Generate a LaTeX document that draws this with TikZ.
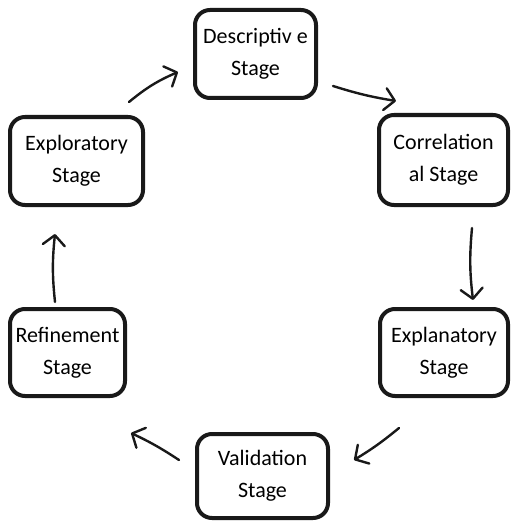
\documentclass[tikz,border=0pt]{standalone}
\usepackage{fontspec}
\setmainfont{Carlito}
\usetikzlibrary{arrows.meta}
\begin{document}
\begin{tikzpicture}[x=1pt,y=-1pt,
  stagebox/.style={draw=black!90,line width=4pt,rounded corners=15pt,align=center,
    font=\fontsize{22}{32}\selectfont,inner sep=0pt},
  arr/.style={draw=black!90,line width=2.4pt,line cap=round,
    -{Straight Barb[length=10pt,width=22pt,line cap=round,line join=round]}}]
\useasboundingbox (0,0) rectangle (512,524);
\node[stagebox,minimum width=121pt,minimum height=88pt] (desc) at (255.5,54) {Descriptiv e\\Stage};
\node[stagebox,minimum width=129pt,minimum height=90pt] (corr) at (443.5,160) {Correlation\\al Stage};
\node[stagebox,minimum width=133pt,minimum height=88pt] (expo) at (76.5,161) {Exploratory\\Stage};
\node[stagebox,minimum width=128pt,minimum height=87pt] (expl) at (444,352.5) {Explanatory\\Stage};
\node[stagebox,minimum width=115pt,minimum height=87pt] (refi) at (67.5,352.5) {Refinement\\Stage};
\node[stagebox,minimum width=131pt,minimum height=84pt] (vali) at (262.5,476) {Validation\\Stage};
\coordinate (a1) at (129,102); \coordinate (b1) at (178,72);
\coordinate (a2) at (333,86);  \coordinate (b2) at (396,101);
\coordinate (a3) at (472,228); \coordinate (b3) at (473,300);
\coordinate (a4) at (399,428); \coordinate (b4) at (354,460);
\coordinate (a5) at (179,460); \coordinate (b5) at (131,433);
\coordinate (a6) at (55,302);  \coordinate (b6) at (55,234);
\draw[arr] (a1) to[bend left=8] (b1);
\draw[arr] (a2) to[bend right=4] (b2);
\draw[arr] (a3) to[bend right=6] (b3);
\draw[arr] (a4) to[bend left=4] (b4);
\draw[arr] (a5) to[bend right=4] (b5);
\draw[arr] (a6) to[bend left=6] (b6);
\end{tikzpicture}
\end{document}
